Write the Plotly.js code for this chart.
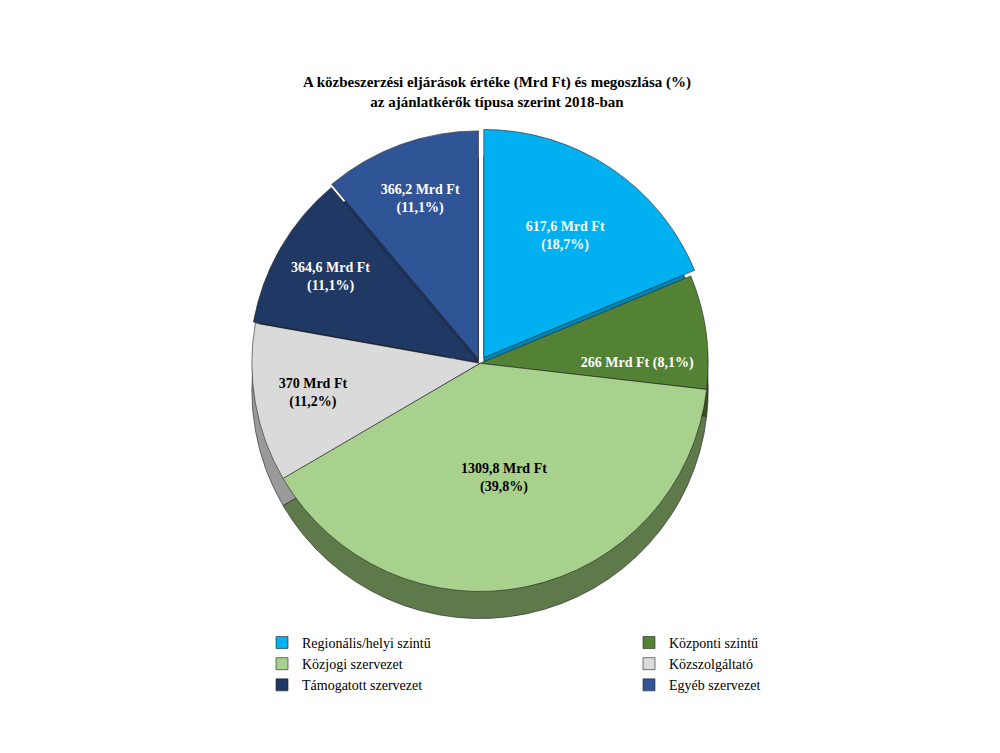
<!DOCTYPE html>
<html>
<head>
<meta charset="utf-8">
<script src="https://cdn.plot.ly/plotly-3.0.1.min.js"></script>
<style>html,body{margin:0;padding:0;background:#fff;}#chart{width:1000px;height:753px;}</style>
</head>
<body>
<div id="chart"></div>
<script>
const categories = ["Regionális/helyi szintű", "Központi szintű", "Közjogi szervezet", "Közszolgáltató", "Támogatott szervezet", "Egyéb szervezet"];
const values = [617.6, 266, 1309.8, 370, 364.6, 366.2];
const colors = ["#00B0F0", "#548235", "#A9D18E", "#DADADA", "#203864", "#2F5597"];
const sideColors = ["#0085B5", "#34521F", "#5E7A4A", "#9A9A9A", "#101E38", "#1C3563"];
const textColors = ["#ffffff", "#ffffff", "#000000", "#000000", "#ffffff", "#ffffff"];
const templates = [
  "%{value:~g} Mrd Ft<br>(%{percent:.1%})",
  "%{value:~g} Mrd Ft (%{percent:.1%})",
  "%{value:~g} Mrd Ft<br>(%{percent:.1%})",
  "%{value:~g} Mrd Ft<br>(%{percent:.1%})",
  "%{value:~g} Mrd Ft<br>(%{percent:.1%})",
  "%{value:~g} Mrd Ft<br>(%{percent:.1%})"
];
const pulls = [0.03, 0, 0, 0, 0.01, 0.02];

const serif = "'Liberation Serif', 'DejaVu Serif', serif";

const sideTrace = {
  type: "pie",
  labels: categories,
  values: values,
  sort: false,
  direction: "clockwise",
  rotation: 0,
  pull: pulls,
  textinfo: "none",
  hoverinfo: "skip",
  showlegend: false,
  marker: {colors: sideColors, line: {color: "#222", width: 0.6}},
  domain: {x: [0.245, 0.715], y: [0.168, 0.795]}
};

const topTrace = {
  type: "pie",
  labels: categories,
  values: values,
  sort: false,
  direction: "clockwise",
  rotation: 0,
  pull: pulls,
  texttemplate: templates,
  textposition: "inside",
  insidetextorientation: "horizontal",
  insidetextfont: {family: serif, size: 14, color: textColors, weight: "bold"},
  marker: {colors: colors, line: {color: "#222", width: 0.6}},
  domain: {x: [0.245, 0.715], y: [0.205, 0.83]}
};

const layout = {
  width: 1000,
  height: 753,
  margin: {l: 0, r: 0, t: 0, b: 0},
  paper_bgcolor: "#ffffff",
  separators: ",.",
  title: {
    text: "<b>A közbeszerzési eljárások értéke (Mrd Ft) és megoszlása (%)<br>az ajánlatkérők típusa szerint 2018-ban</b>",
    font: {family: serif, size: 15, color: "#000"},
    x: 0.497, xanchor: "center",
    y: 0.884, yanchor: "middle"
  },
  showlegend: true,
  legend: {
    orientation: "h",
    x: 0.262, xanchor: "left",
    y: 0.1675, yanchor: "top",
    entrywidth: 322,
    entrywidthmode: "pixels",
    font: {family: serif, size: 14, color: "#000"},
    itemwidth: 30,
    tracegroupgap: 0
  }
};

Plotly.newPlot("chart", [sideTrace, topTrace], layout, {displayModeBar: false, staticPlot: true});
</script>
</body>
</html>
